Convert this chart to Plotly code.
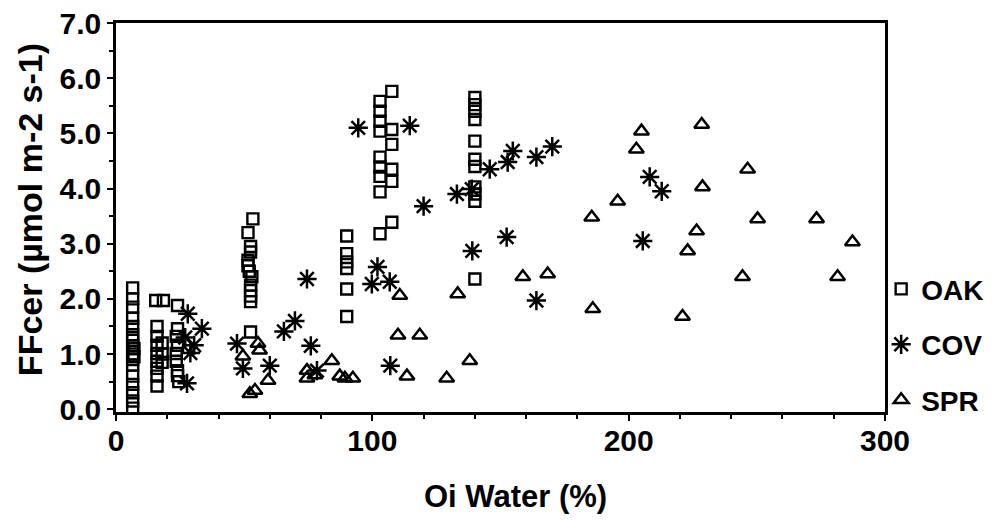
import plotly.graph_objects as go

# OAK (squares)
oak_x = [6.5, 6.5, 6.5, 6.5, 6.5, 6.5, 6.5, 6.5, 7, 6.5, 7, 6.5, 6.5, 6.5, 6.5, 6.5, 6.5, 6.5,
         15.5, 18.5, 16, 16, 16, 16, 16, 16, 16, 16, 18, 18, 18,
         24, 24, 23.5, 24, 23.5, 23.5, 24, 24, 24.5,
         53.4, 51.5, 52.5, 52.5, 51.5, 51.5, 52, 53, 52.5, 52.5, 52.5, 52.5, 52.5,
         90, 90, 90, 90, 90, 90,
         103, 103, 103, 103, 103, 103, 103, 103, 103,
         107.6, 107.6, 107.6, 107.6, 107.6, 107.6,
         140, 140, 140, 140, 140, 140, 140, 140, 140, 140, 140]
oak_y = [2.2, 2.0, 1.85, 1.65, 1.5, 1.35, 1.25, 1.15, 1.1, 1.0, 0.95, 0.9, 0.8, 0.6, 0.45, 0.3, 0.15, 0.02,
         1.97, 1.97, 1.5, 1.32, 1.16, 1.01, 0.87, 0.74, 0.6, 0.42, 1.2, 1.0, 0.85,
         1.88, 1.46, 1.32, 1.16, 1.01, 0.87, 0.7, 0.61, 0.5,
         3.45, 3.2, 2.95, 2.85, 2.7, 2.6, 2.5, 2.4, 2.25, 2.15, 2.05, 1.95, 1.4,
         3.14, 2.82, 2.67, 2.55, 2.18, 1.68,
         5.58, 5.40, 5.22, 5.04, 4.57, 4.39, 4.22, 3.94, 3.18,
         5.76, 5.07, 4.80, 4.35, 4.13, 3.39,
         5.65, 5.52, 5.40, 5.25, 4.86, 4.53, 4.40, 4.03, 3.90, 3.77, 2.36]

# COV (asterisks)
cov_x = [28, 33.5, 27, 30.5, 29, 27.7,
         47.2, 49.5, 60, 65.5, 69.8, 74.5, 76, 78.4,
         94.5, 114.6, 120, 133, 138.8, 145.8, 152.8, 154.8, 164, 170.2,
         139, 152.4, 164, 102, 99.8, 106.8, 107,
         208.2, 212.9, 205.5]
cov_y = [1.73, 1.46, 1.3, 1.16, 1.02, 0.47,
         1.19, 0.74, 0.79, 1.41, 1.6, 2.36, 1.15, 0.7,
         5.1, 5.14, 3.68, 3.9, 3.99, 4.35, 4.48, 4.68, 4.57, 4.76,
         2.87, 3.12, 1.97, 2.58, 2.27, 2.31, 0.79,
         4.21, 3.95, 3.05]

# SPR (triangles)
spr_x = [55.4, 56, 49.5, 59.3, 54.2, 52.2, 74.5, 74.5, 77.6, 84.2, 87.3, 89.3, 92.4,
         110.7, 110, 118.5, 113.5, 129, 138, 133.3, 158.7, 168.4, 186, 185.6, 195.7,
         203, 205, 228.5, 228.8, 226.5, 223, 221, 246.4, 250.3, 273.3, 287.3, 244.4, 281.5]
spr_y = [1.19, 1.07, 0.96, 0.52, 0.34, 0.28, 0.70, 0.56, 0.62, 0.88, 0.6, 0.56, 0.56,
         2.06, 1.34, 1.34, 0.6, 0.56, 0.88, 2.09, 2.4, 2.45, 1.82, 3.48, 3.77,
         4.71, 5.04, 5.16, 4.03, 3.23, 2.87, 1.68, 4.35, 3.45, 3.45, 3.03, 2.40, 2.40]

x_title = "Oi Water (%)"
y_title = "FFcer (µmol m-2 s-1)"

FONT = "Liberation Sans, Arial, sans-serif"

fig = go.Figure()
fig.add_trace(go.Scatter(x=oak_x, y=oak_y, mode="markers", name="OAK", legendgroup="a",
                         marker=dict(symbol="square-open", size=11, color="black",
                                     line=dict(width=2.4, color="black"))))
fig.add_trace(go.Scatter(x=cov_x, y=cov_y, mode="markers", name="COV", legendgroup="b",
                         marker=dict(symbol="asterisk-open", size=16, color="black",
                                     line=dict(width=2.5, color="black"))))
fig.add_trace(go.Scatter(x=spr_x, y=spr_y, mode="markers", name="SPR", legendgroup="c",
                         marker=dict(symbol="triangle-up-open", size=13, color="black",
                                     line=dict(width=2.5, color="black"))))

axis_common = dict(showline=True, linecolor="black", linewidth=2.5, mirror=True,
                   showgrid=False, zeroline=False, ticks="outside", tickcolor="black",
                   tickwidth=2, ticklen=6,
                   tickfont=dict(family=FONT, size=30, color="black", weight="bold"))

fig.update_xaxes(range=[0, 300], tickvals=[0, 100, 200, 300], ticklabelstandoff=-6,
                 minor=dict(dtick=20, ticks="outside", ticklen=4, tickcolor="black", tickwidth=1.5),
                 **axis_common)
fig.update_yaxes(range=[-0.05, 7.0], tickvals=[0, 1, 2, 3, 4, 5, 6, 7], tickformat=".1f",
                 minor=dict(dtick=0.5, ticks="outside", ticklen=4, tickcolor="black", tickwidth=1.5),
                 **axis_common)

fig.add_annotation(text=x_title, xref="paper", yref="paper", x=0.519, y=-0.2185,
                   xanchor="center", yanchor="middle", showarrow=False,
                   font=dict(family=FONT, size=31, color="black", weight="bold"))
fig.add_annotation(text=y_title, xref="paper", yref="paper", x=-0.1118, y=0.519,
                   xanchor="center", yanchor="middle", showarrow=False, textangle=-90,
                   font=dict(family=FONT, size=34, color="black", weight="bold"))

fig.update_layout(
    width=998, height=521,
    margin=dict(l=116, r=113, t=23, b=109, autoexpand=False),
    paper_bgcolor="white", plot_bgcolor="white",
    showlegend=True,
    legend=dict(x=0.995, y=0.38, xanchor="left", yanchor="top",
                font=dict(family=FONT, size=28, color="black", weight="bold"),
                tracegroupgap=16, itemwidth=30, bgcolor="rgba(0,0,0,0)"),
)

fig.write_html("out.html")
